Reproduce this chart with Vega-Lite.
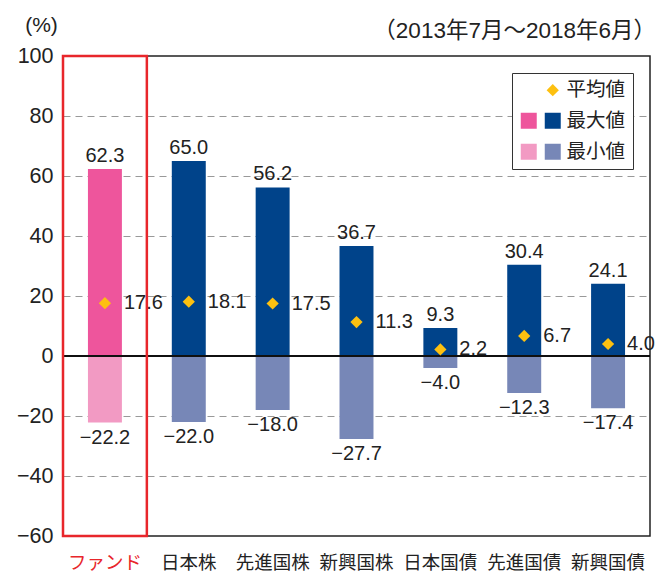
{
  "$schema": "https://vega.github.io/schema/vega-lite/v6.json",
  "autosize": "none",
  "width": 587,
  "height": 480,
  "padding": {"left": 63, "top": 56, "right": 7, "bottom": 41},
  "background": "white",
  "config": {
    "font": "Liberation Sans, Noto Sans CJK JP",
    "view": {"stroke": "#222", "strokeWidth": 1.5},
    "text": {"font": "Liberation Sans, Noto Sans CJK JP", "fontSize": 20, "fill": "#222"}
  },
  "title": {
    "text": "（2013年7月～2018年6月）",
    "anchor": "end",
    "frame": "group",
    "fontSize": 22.5,
    "fontWeight": "normal",
    "color": "#222",
    "offset": 14,
    "dy": 42,
    "dx": 6
  },
  "data": {
    "values": [
      {"cat": "ファンド", "kind": "最大値", "value": 62.3},
      {"cat": "ファンド", "kind": "最小値", "value": -22.2},
      {"cat": "ファンド", "kind": "平均値", "value": 17.6},
      {"cat": "日本株", "kind": "最大値", "value": 65.0},
      {"cat": "日本株", "kind": "最小値", "value": -22.0},
      {"cat": "日本株", "kind": "平均値", "value": 18.1},
      {"cat": "先進国株", "kind": "最大値", "value": 56.2},
      {"cat": "先進国株", "kind": "最小値", "value": -18.0},
      {"cat": "先進国株", "kind": "平均値", "value": 17.5},
      {"cat": "新興国株", "kind": "最大値", "value": 36.7},
      {"cat": "新興国株", "kind": "最小値", "value": -27.7},
      {"cat": "新興国株", "kind": "平均値", "value": 11.3},
      {"cat": "日本国債", "kind": "最大値", "value": 9.3},
      {"cat": "日本国債", "kind": "最小値", "value": -4.0},
      {"cat": "日本国債", "kind": "平均値", "value": 2.2},
      {"cat": "先進国債", "kind": "最大値", "value": 30.4},
      {"cat": "先進国債", "kind": "最小値", "value": -12.3},
      {"cat": "先進国債", "kind": "平均値", "value": 6.7},
      {"cat": "新興国債", "kind": "最大値", "value": 24.1},
      {"cat": "新興国債", "kind": "最小値", "value": -17.4},
      {"cat": "新興国債", "kind": "平均値", "value": 4.0}
    ]
  },
  "transform": [
    {"calculate": "datum.cat === 'ファンド' && datum.kind !== '平均値' ? 'ファンド' + datum.kind : datum.kind", "as": "ckey"}
  ],
  "encoding": {
    "x": {
      "field": "cat",
      "type": "nominal",
      "sort": null,
      "scale": {"paddingInner": 0.595, "paddingOuter": 0.2975},
      "axis": {
        "title": null,
        "labelAngle": 0,
        "labelFontSize": 18.5,
        "labelPadding": 17,
        "ticks": false,
        "domain": false,
        "labelColor": {"condition": {"test": "datum.value === 'ファンド'", "value": "#E8262B"}, "value": "#222"}
      }
    }
  },
  "layer": [
    {
      "transform": [{"filter": "datum.kind !== '平均値'"}],
      "mark": {"type": "bar"},
      "encoding": {
        "y": {
          "field": "value",
          "type": "quantitative",
          "scale": {"domain": [-60, 100], "nice": false, "zero": false},
          "axis": {
            "values": [-60, -40, -20, 0, 20, 40, 60, 80, 100],
            "labelExpr": "(datum.value < 0 ? '−' : '') + abs(datum.value)",
            "title": "(%)",
            "titleAngle": 0,
            "titleAlign": "center",
            "titleBaseline": "middle",
            "titleX": -22,
            "titleY": -31,
            "titleFontSize": 21,
            "titleFontWeight": "normal",
            "titleColor": "#222",
            "labelFontSize": 21.5,
            "labelColor": "#222",
            "labelPadding": 10,
            "ticks": false,
            "domain": false,
            "grid": true,
            "gridDash": [7, 5],
            "gridColor": "#999",
            "gridWidth": 1,
            "gridOpacity": {"condition": {"test": "datum.value === 0 || datum.value === 100 || datum.value === -60", "value": 0}, "value": 1}
          }
        },
        "color": {
          "field": "ckey",
          "type": "nominal",
          "scale": {
            "domain": ["_b", "ファンド最大値", "ファンド最小値", "平均値", "最大値", "最小値"],
            "range": ["rgba(0,0,0,0)", "#EE559C", "#F29AC3", "#FDC010", "#00438A", "#7787B7"]
          },
          "legend": {
            "title": null,
            "orient": "top-right",
            "offset": 17,
            "columns": 2,
            "columnPadding": 0,
            "rowPadding": 10,
            "padding": 7,
            "strokeColor": "#333",
            "fillColor": "white",
            "symbolSize": 256,
            "symbolStrokeWidth": 0,
            "labelOffset": 4,
            "labelFontSize": 19.5,
            "labelColor": "#222",
            "labelExpr": "indexof(['平均値','最大値','最小値'], datum.label) >= 0 ? datum.label : ''",
            "encode": {
              "symbols": {
                "update": {
                  "shape": {"signal": "datum.value === '平均値' ? 'diamond' : 'square'"},
                  "size": {"signal": "datum.value === '平均値' ? 150 : 256"},
                  "strokeWidth": {"value": 0}
                }
              }
            }
          }
        }
      }
    },
    {
      "mark": {"type": "rule", "color": "#111", "strokeWidth": 1.5},
      "encoding": {"y": {"datum": 0}, "x": null}
    },
    {
      "transform": [{"filter": "datum.cat === 'ファンド' && datum.kind === '最大値'"}],
      "mark": {"type": "bar", "filled": false, "stroke": "#E8262B", "strokeWidth": 2.5, "fill": null, "width": {"band": 2.469}},
      "encoding": {"y": {"datum": 100}, "y2": {"datum": -60}}
    },
    {
      "transform": [{"filter": "datum.kind === '平均値'"}],
      "mark": {"type": "point", "shape": "diamond", "filled": true, "size": 150, "opacity": 1},
      "encoding": {
        "y": {"field": "value", "type": "quantitative"},
        "color": {"field": "ckey", "type": "nominal"}
      }
    },
    {
      "transform": [{"filter": "datum.kind === '最大値'"}],
      "mark": {"type": "text", "baseline": "alphabetic", "dy": -7},
      "encoding": {
        "y": {"field": "value", "type": "quantitative"},
        "text": {"field": "value", "type": "quantitative", "format": ".1f"}
      }
    },
    {
      "transform": [{"filter": "datum.kind === '最小値'"}],
      "mark": {"type": "text", "baseline": "top", "dy": 5},
      "encoding": {
        "y": {"field": "value", "type": "quantitative"},
        "text": {"field": "value", "type": "quantitative", "format": ".1f"}
      }
    },
    {
      "transform": [{"filter": "datum.kind === '平均値'"}],
      "mark": {"type": "text", "baseline": "middle", "align": "left", "dx": 19},
      "encoding": {
        "y": {"field": "value", "type": "quantitative"},
        "text": {"field": "value", "type": "quantitative", "format": ".1f"}
      }
    }
  ]
}
